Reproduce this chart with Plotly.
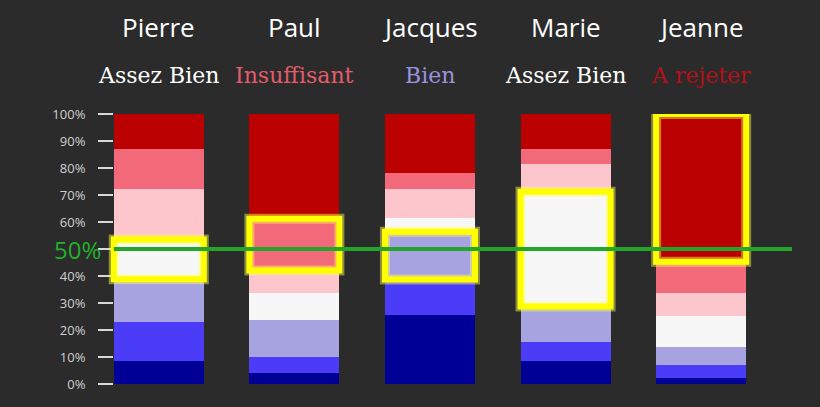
import plotly.graph_objects as go

candidates = ["Pierre", "Paul", "Jacques", "Marie", "Jeanne"]
mentions = ["Excellent", "Très Bien", "Bien", "Assez Bien", "Passable", "Insuffisant", "A rejeter"]
seg_colors = ["#000096", "#4b3cf8", "#a7a3e1", "#f7f7f7", "#fcc6cc", "#f26a79", "#bb0000"]
mention_text_colors = {"Excellent": "#3030c0", "Très Bien": "#4b3cf8", "Bien": "#9a92dc",
                       "Assez Bien": "#ffffff", "Passable": "#fcc6cc",
                       "Insuffisant": "#e25c6b", "A rejeter": "#b3101a"}

# share of each mention (%) per candidate, bottom to top
excellent   = [8.6, 4.1, 25.4, 8.6, 2.4]
tres_bien   = [14.2, 5.8, 13.3, 6.9, 4.7]
bien        = [16.0, 13.9, 17.7, 13.2, 6.7]
assez_bien  = [14.7, 9.9, 5.1, 42.5, 11.5]
passable    = [18.8, 8.3, 10.7, 10.3, 8.4]
insuffisant = [14.9, 19.2, 5.9, 5.6, 11.6]
a_rejeter   = [12.8, 38.8, 21.9, 12.9, 54.7]
series = [excellent, tres_bien, bien, assez_bien, passable, insuffisant, a_rejeter]

y_ticks = [0, 10, 20, 30, 40, 50, 60, 70, 80, 90, 100]
y_tick_text = ["0%", "10%", "20%", "30%", "40%", "", "60%", "70%", "80%", "90%", "100%"]

BAR_W = 0.664
X_MAX = 4.67
BG = "#2b2b2b"

xs = list(range(len(candidates)))
fig = go.Figure()
for name, vals, col in zip(mentions, series, seg_colors):
    fig.add_trace(go.Bar(x=xs, y=vals, name=name, marker=dict(color=col, line=dict(width=0)),
                         width=BAR_W, showlegend=False, hoverinfo="skip"))

shapes = []
annotations = []
for i, cand in enumerate(candidates):
    cum = 0
    for k, s in enumerate(series):
        lo, hi = cum, cum + s[i]
        cum = hi
        if lo <= 50 < hi:
            med = mentions[k]
            top = min(hi, 100)
            for lw, col in [(10, "rgba(255,255,90,0.45)"), (6, "#ffff00")]:
                shapes.append(dict(type="rect", xref="x", yref="y",
                                   x0=i - BAR_W / 2, x1=i + BAR_W / 2, y0=lo, y1=top,
                                   line=dict(color=col, width=lw), layer="above"))
            break
    annotations.append(dict(x=i, y=1.322, xref="x", yref="paper", text=cand, showarrow=False,
                            font=dict(family="Open Sans", size=26, color="#ffffff"),
                            xanchor="center", yanchor="middle"))
    annotations.append(dict(x=i, y=1.144, xref="x", yref="paper", text=med, showarrow=False,
                            font=dict(family="DejaVu Serif", size=22, color=mention_text_colors[med]),
                            xanchor="center", yanchor="middle"))

shapes.append(dict(type="line", xref="x", yref="y", x0=-BAR_W / 2, x1=X_MAX, y0=50, y1=50,
                   line=dict(color="#23a52b", width=4), layer="above"))
annotations.append(dict(x=0.017, y=50, xref="paper", yref="y", text="50%", showarrow=False,
                        font=dict(family="Open Sans", size=24, color="#22b02a"),
                        xanchor="right", yanchor="middle"))

fig.update_layout(
    width=820, height=407,
    margin=dict(l=91, r=28, t=114, b=23),
    paper_bgcolor=BG, plot_bgcolor=BG,
    barmode="stack", bargap=0,
    shapes=shapes, annotations=annotations,
    xaxis=dict(range=[-0.5, X_MAX], showgrid=False, zeroline=False, showticklabels=False,
               showline=False, ticks=""),
    yaxis=dict(range=[0, 100], anchor="free", position=0.0314, side="left",
               tickvals=y_ticks, ticktext=y_tick_text, ticks="outside", ticklen=15,
               tickwidth=2, tickcolor="#d8d8d8", ticklabelstandoff=10,
               tickfont=dict(family="Open Sans", size=13, color="#d0d0d0"),
               showgrid=False, zeroline=False, showline=False),
)

fig.write_html("out.html")
